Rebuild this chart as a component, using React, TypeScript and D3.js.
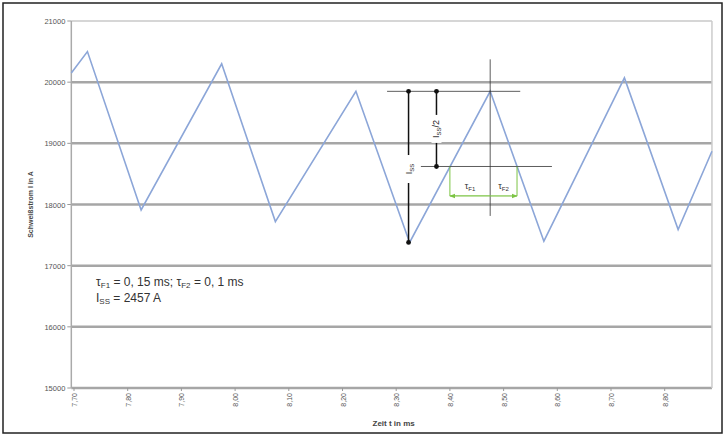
import React from "react";
import * as d3 from "d3";

const times = [7.695, 7.725, 7.825, 7.975, 8.075, 8.225, 8.325, 8.475, 8.575, 8.725, 8.825, 8.888];
const currents = [20150, 20500, 17910, 20300, 17720, 19850, 17380, 19850, 17400, 20070, 17590, 18870];
const yTicks = [15000, 16000, 17000, 18000, 19000, 20000, 21000];
const xTicks = [7.7, 7.8, 7.9, 8.0, 8.1, 8.2, 8.3, 8.4, 8.5, 8.6, 8.7, 8.8];
const xTickLabels = ["7,70", "7,80", "7,90", "8,00", "8,10", "8,20", "8,30", "8,40", "8,50", "8,60", "8,70", "8,80"];
const iss = 2457;
const peakT = 8.475;
const peakI = 19850;
const crossT1 = 8.4;
const crossT2 = 8.525;
const tauLevel = 18140;

export default function App() {
  const W = 725, H = 436;
  const x = d3.scaleLinear().domain([7.7, 7.8]).range([74, 127.7]);
  const y = d3.scaleLinear().domain([15000, 21000]).range([388, 21]);
  const left = x(times[0]);
  const right = x(times[times.length - 1]);
  const line = d3.line<number>().x((d, i) => x(times[i])).y((d) => y(d));
  const midI = peakI - iss / 2;
  const troughI = 17380;
  const px = x(peakT);
  const fs = "Liberation Sans, Arial, sans-serif";
  const green = "#7cc444";
  return (
    <svg width={W} height={H} style={{ position: "absolute", left: 0, top: 0, background: "#fff" }}>
      <defs>
        <marker id="dot" viewBox="0 0 10 10" refX="5" refY="5" markerWidth="4" markerHeight="4">
          <circle cx="5" cy="5" r="4" fill="#111" />
        </marker>
        <marker id="ga" viewBox="0 0 10 10" refX="9" refY="5" markerWidth="5" markerHeight="5" orient="auto-start-reverse">
          <path d="M0,1 L10,5 L0,9 z" fill={green} />
        </marker>
      </defs>
      <rect x={3} y={3} width={719} height={430} fill="#fff" stroke="#222" strokeWidth={1.5} />
      {yTicks.map((t) => (
        <g key={t}>
          <line x1={left} x2={right} y1={y(t)} y2={y(t)} stroke="#a6a6a6" strokeWidth={t === 21000 ? 1.5 : 2.5} opacity={t === 21000 ? 0.6 : 1} />
          <line x1={left - 4} x2={left} y1={y(t)} y2={y(t)} stroke="#999" strokeWidth={1} />
          <text x={left - 6} y={y(t) + 3} textAnchor="end" fontFamily={fs} fontSize={7.5} fill="#555">{t}</text>
        </g>
      ))}
      <line x1={left} x2={left} y1={y(21000)} y2={y(15000)} stroke="#aaa" strokeWidth={1.5} />
      <line x1={right} x2={right} y1={y(21000)} y2={y(15000)} stroke="#ccc" strokeWidth={1.5} />
      {xTicks.map((t, i) => (
        <g key={t}>
          <line x1={x(t)} x2={x(t)} y1={y(15000)} y2={y(15000) + 3} stroke="#999" />
          <text transform={`translate(${x(t) + 3},${y(15000) + 5}) rotate(-90)`} textAnchor="end" fontFamily={fs} fontSize={7} fill="#555">{xTickLabels[i]}</text>
        </g>
      ))}
      <text x={(left + right) / 2 + 2} y={426} textAnchor="middle" fontFamily={fs} fontSize={8} fontWeight="bold" fill="#444">Zeit t in ms</text>
      <text transform={`translate(33,${(y(21000) + y(15000)) / 2}) rotate(-90)`} textAnchor="middle" fontFamily={fs} fontSize={7} fontWeight="bold" fill="#444">Schweißstrom I in A</text>
      <path d={line(currents) || ""} fill="none" stroke="#8ca6d8" strokeWidth={1.6} />
      <line x1={px} x2={px} y1={y(peakI) - 32} y2={y(tauLevel) + 20} stroke="#333" strokeWidth={0.8} />
      <line x1={x(8.283)} x2={x(8.531)} y1={y(peakI)} y2={y(peakI)} stroke="#333" strokeWidth={0.8} />
      <line x1={x(8.346)} x2={x(8.59)} y1={y(midI)} y2={y(midI)} stroke="#333" strokeWidth={0.8} />
      <line x1={x(8.323)} x2={x(8.323)} y1={y(peakI)} y2={y(troughI)} stroke="#111" strokeWidth={1.5} markerStart="url(#dot)" markerEnd="url(#dot)" />
      <rect x={x(8.323) - 5} y={y(18580) - 14} width={10} height={28} fill="#fff" />
      <text transform={`translate(${x(8.323) + 3},${y(18580)}) rotate(-90)`} textAnchor="middle" fontFamily={fs} fontSize={9} fill="#222">I<tspan fontSize={6} dy={2}>SS</tspan></text>
      <line x1={x(8.375)} x2={x(8.375)} y1={y(peakI)} y2={y(midI)} stroke="#111" strokeWidth={1.5} markerStart="url(#dot)" markerEnd="url(#dot)" />
      <rect x={x(8.375) - 5} y={y((peakI + midI) / 2) - 14} width={10} height={28} fill="#fff" />
      <text transform={`translate(${x(8.375) + 3},${y((peakI + midI) / 2)}) rotate(-90)`} textAnchor="middle" fontFamily={fs} fontSize={9} fill="#222">I<tspan fontSize={6} dy={2}>SS</tspan><tspan dy={-2}>/2</tspan></text>
      <line x1={x(crossT1)} x2={x(crossT1)} y1={y(midI)} y2={y(tauLevel)} stroke={green} strokeWidth={1} />
      <line x1={x(crossT2)} x2={x(crossT2)} y1={y(midI)} y2={y(tauLevel)} stroke={green} strokeWidth={1} />
      <line x1={x(crossT1)} x2={px} y1={y(tauLevel)} y2={y(tauLevel)} stroke={green} strokeWidth={1.2} markerStart="url(#ga)" />
      <line x1={px} x2={x(crossT2)} y1={y(tauLevel)} y2={y(tauLevel)} stroke={green} strokeWidth={1.2} markerEnd="url(#ga)" />
      <text x={(x(crossT1) + px) / 2} y={y(tauLevel) - 7} textAnchor="middle" fontFamily={fs} fontSize={9} fill="#333">τ<tspan fontSize={6} dy={2}>F1</tspan></text>
      <text x={(x(crossT2) + px) / 2} y={y(tauLevel) - 7} textAnchor="middle" fontFamily={fs} fontSize={9} fill="#333">τ<tspan fontSize={6} dy={2}>F2</tspan></text>
      <text x={96} y={286} fontFamily={fs} fontSize={12} fill="#333">τ<tspan fontSize={8} dy={2}>F1</tspan><tspan dy={-2}> = 0, 15 ms; τ</tspan><tspan fontSize={8} dy={2}>F2</tspan><tspan dy={-2}> = 0, 1 ms</tspan></text>
      <text x={96} y={302} fontFamily={fs} fontSize={12} fill="#333">I<tspan fontSize={8} dy={2}>SS</tspan><tspan dy={-2}> = 2457 A</tspan></text>
    </svg>
  );
}
